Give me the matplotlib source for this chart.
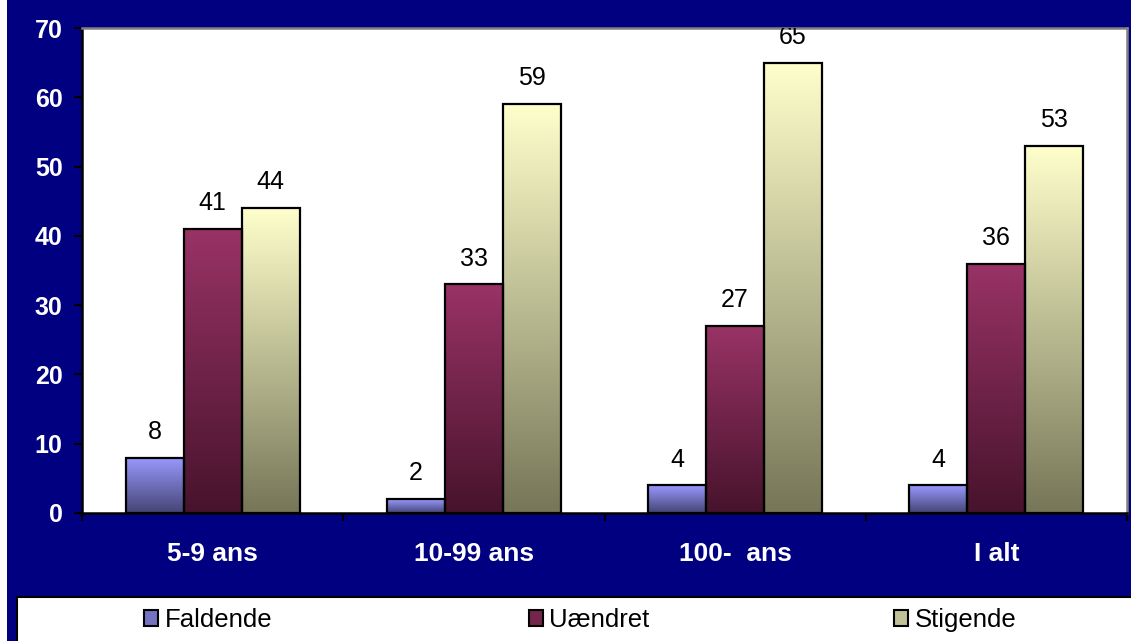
import numpy as np
import matplotlib
matplotlib.use("Agg")
import matplotlib.pyplot as plt
from matplotlib.colors import LinearSegmentedColormap
from matplotlib.patches import Rectangle

plt.rcParams['font.family'] = ['Liberation Sans', 'DejaVu Sans']

# data
categories = ["5-9 ans", "10-99 ans", "100-  ans", "I alt"]
series_names = ["Faldende", "Uændret", "Stigende"]
faldende = [8, 2, 4, 4]
uaendret = [41, 33, 27, 36]
stigende = [44, 59, 65, 53]

# (bottom colour, top colour) of each series' gradient
grad_colors = [("#444475", "#9999ff"), ("#47132c", "#993366"), ("#767658", "#ffffcc")]
NAVY = "#000080"

W, H = 1131, 641


def px(x0, y0, x1, y1):
    """pixel box (top-left origin) -> figure rect"""
    return [x0 / W, 1 - y1 / H, (x1 - x0) / W, (y1 - y0) / H]


def main():
    fig = plt.figure(figsize=(W / 100, H / 100), dpi=100, facecolor="white")
    fig.add_artist(Rectangle((7 / W, 0), 1, 1, transform=fig.transFigure,
                             facecolor=NAVY, edgecolor="none", zorder=0))
    # legend box
    fig.add_artist(Rectangle((17 / W, -0.01), 1, (641 - 597) / H + 0.01, transform=fig.transFigure,
                             facecolor="white", edgecolor="black", lw=1.5, zorder=1))

    ax = fig.add_axes(px(82, 28, 1127, 513))
    ax.set_facecolor("white")

    x = np.arange(len(categories))
    width = 0.222
    handles = []
    for i, (vals, (c0, c1)) in enumerate(zip([faldende, uaendret, stigende], grad_colors)):
        cmap = LinearSegmentedColormap.from_list(series_names[i], [c0, c1])
        bars = ax.bar(x + (i - 1) * width, vals, width, facecolor="none",
                      edgecolor="black", linewidth=1.6, zorder=3)
        for b in bars:
            grad = np.linspace(0, 1, 256).reshape(-1, 1)
            ax.imshow(grad, cmap=cmap, origin="lower", aspect="auto", zorder=2,
                      extent=[b.get_x(), b.get_x() + b.get_width(), 0, b.get_height()])
            ax.annotate(f"{b.get_height():g}", (b.get_x() + b.get_width() / 2, b.get_height()),
                        xytext=(0, 13.5), textcoords="offset points", ha="center",
                        va="baseline", fontsize=18, color="black", clip_on=True)
        # legend swatch uses a blend of the gradient
        handles.append(Rectangle((0, 0), 1, 1, facecolor=cmap(0.55), edgecolor="black", lw=1.5))

    ax.set_xlim(-0.5, len(categories) - 0.5)
    ax.set_ylim(0, 70)
    ax.set_yticks(np.arange(0, 71, 10))
    ax.set_xticks(x, categories)
    ax.set_xticks(np.arange(-0.5, len(categories), 1), minor=True)

    ax.tick_params(axis="y", length=6, width=1.5, pad=8, labelsize=18, labelcolor="white", color="black")
    ax.tick_params(axis="x", which="major", length=0, pad=21, labelsize=19, labelcolor="white")
    ax.tick_params(axis="x", which="minor", length=5.5, width=1.5, color="black")
    for lab in ax.get_xticklabels() + ax.get_yticklabels():
        lab.set_fontweight("bold")

    for side in ("left", "bottom"):
        ax.spines[side].set_color("black")
        ax.spines[side].set_linewidth(1.8)
    for side in ("top", "right"):
        ax.spines[side].set_color("#808080")
        ax.spines[side].set_linewidth(1.8)

    # legend entries, each centred in its third of the box
    centers = [208, 589, 955]
    for h, name, cx in zip(handles, series_names, centers):
        fig.legend([h], [name], loc="center", bbox_to_anchor=(cx / W, 1 - 620 / H),
                   frameon=False, fontsize=18.5, handlelength=0.55, handleheight=0.55,
                   handletextpad=0.25, borderpad=0)

    fig.savefig("out.png", dpi=100, facecolor=fig.get_facecolor())


if __name__ == "__main__":
    main()
